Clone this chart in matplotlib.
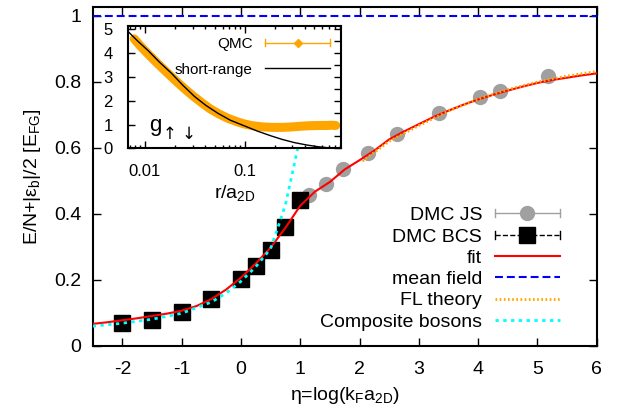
import numpy as np
import matplotlib
matplotlib.use("Agg")
import matplotlib.pyplot as plt
from matplotlib.lines import Line2D
from matplotlib.legend_handler import HandlerBase
from matplotlib.ticker import FormatStrFormatter, NullFormatter, MultipleLocator, LogLocator

plt.rcParams['font.family'] = ['Liberation Sans', 'DejaVu Sans']
plt.rcParams['mathtext.fontset'] = 'custom'
plt.rcParams['mathtext.rm'] = 'Liberation Sans'
plt.rcParams['mathtext.it'] = 'Liberation Sans'
plt.rcParams['axes.unicode_minus'] = False

# DMC with BCS nodes
bcs_eta = [-2.0, -1.5, -1.0, -0.5, 0.0, 0.25, 0.5, 0.75, 1.0]
bcs_e = [0.069, 0.079, 0.104, 0.142, 0.202, 0.243, 0.291, 0.360, 0.442]

# DMC Jastrow-Slater
js_eta = [1.15, 1.43, 1.72, 2.15, 2.64, 3.34, 4.03, 4.37, 5.18]
js_e = [0.458, 0.491, 0.536, 0.584, 0.643, 0.707, 0.754, 0.774, 0.819]

# fit
fit_eta = [-2.5, -2.25, -2.0, -1.75, -1.5, -1.25, -1.0, -0.75, -0.5, -0.25, 0.0,
           0.25, 0.5, 0.75, 1.0, 1.25, 1.5, 1.75, 2.0, 2.25, 2.5, 2.75, 3.0,
           3.25, 3.5, 3.75, 4.0, 4.25, 4.5, 4.75, 5.0, 5.25, 5.5, 5.75, 6.0]
fit_e = [0.067, 0.072, 0.078, 0.084, 0.091, 0.098, 0.107, 0.121, 0.142, 0.171, 0.207,
         0.250, 0.298, 0.358, 0.425, 0.468, 0.497, 0.535, 0.563, 0.592, 0.626, 0.650, 0.672,
         0.694, 0.713, 0.731, 0.747, 0.761, 0.774, 0.786, 0.797, 0.806, 0.813, 0.820, 0.826]

# mean field
mf_eta = [-2.5, 6.0]
mf_e = [1.0, 1.0]

# Fermi liquid theory
fl_eta = [2.05, 2.5, 3.0, 3.5, 4.0, 4.5, 5.0, 5.5, 6.0]
fl_e = [0.560, 0.620, 0.668, 0.712, 0.748, 0.777, 0.800, 0.818, 0.832]

# composite bosons
cb_eta = [-2.5, -2.0, -1.5, -1.0, -0.5, -0.25, 0.0, 0.25, 0.5, 0.625, 0.75, 0.875, 1.0, 1.1]
cb_e = [0.060, 0.069, 0.081, 0.099, 0.133, 0.160, 0.196, 0.240, 0.295, 0.360, 0.428, 0.530, 0.635, 0.720]

# inset: pair correlation
qmc_r = [0.0078, 0.009, 0.011, 0.0135, 0.0165, 0.02, 0.025, 0.03, 0.037, 0.045, 0.055,
         0.068, 0.085, 0.1, 0.12, 0.15, 0.19, 0.24, 0.3, 0.37, 0.45, 0.55, 0.65, 0.75, 0.82]
qmc_g = [4.60, 4.30, 3.92, 3.55, 3.20, 2.87, 2.50, 2.22, 1.92, 1.66, 1.45,
         1.26, 1.11, 1.02, 0.95, 0.90, 0.88, 0.88, 0.90, 0.93, 0.95, 0.96, 0.96, 0.97, 0.96]

sr_r = [0.0068, 0.0085, 0.0108, 0.014, 0.0185, 0.024, 0.0316, 0.041, 0.0541, 0.072,
        0.1, 0.135, 0.185, 0.24, 0.316, 0.42, 0.541, 0.7, 0.857]
sr_g = [4.90, 4.50, 4.10, 3.62, 3.15, 2.65, 2.17, 1.80, 1.47, 1.18,
        0.94, 0.72, 0.52, 0.37, 0.24, 0.14, 0.07, 0.02, 0.0]

gray = '#a0a0a0'


class CapLine(HandlerBase):
    # gnuplot style errorbar key: line with end caps and a point in the middle
    def create_artists(self, legend, orig, xd, yd, w, h, fs, trans):
        y = h / 2 - yd
        x0 = -xd
        x1 = -xd + w
        c = orig.get_color()
        lw = orig.get_linewidth()
        line = Line2D([x0, x1], [y, y], color=c, lw=lw, ls=orig.get_linestyle())
        caps = Line2D([x0, x0, np.nan, x1, x1],
                      [y - 0.3 * h, y + 0.3 * h, np.nan, y - 0.3 * h, y + 0.3 * h],
                      color=c, lw=lw)
        mk = Line2D([(x0 + x1) / 2], [y], ls='none', marker=orig.get_marker(),
                    ms=orig.get_markersize(), mfc=orig.get_markerfacecolor(),
                    mec=orig.get_markeredgecolor())
        for a in (line, caps, mk):
            a.set_transform(trans)
        return [line, caps, mk]


fig = plt.figure(figsize=(6.23, 4.12), dpi=100)
ax = fig.add_axes([0.1488, 0.1602, 0.809, 0.8235])

ax.plot(js_eta, js_e, ls='none', marker='o', ms=10, color=gray, zorder=2)
ax.plot(bcs_eta, bcs_e, ls='none', marker='s', ms=11, color='black', zorder=3)
ax.plot(fit_eta, fit_e, color='red', lw=1.5, zorder=4)
ax.plot(mf_eta, mf_e, color='blue', lw=1.5, dashes=(3.8, 1.9), zorder=4)
ax.plot(fl_eta, fl_e, color='orange', lw=2, dashes=(0.6, 0.9), zorder=4)
ax.plot(cb_eta, cb_e, color='cyan', lw=2, dashes=(1.2, 1.6), zorder=5)

ax.set_xlim(-2.5, 6)
ax.set_ylim(0, 1.028)
ax.set_xticks(np.arange(-2, 7))
ax.set_yticks([0, 0.2, 0.4, 0.6, 0.8, 1.0])
ax.xaxis.set_major_formatter(FormatStrFormatter('%g'))
ax.yaxis.set_major_formatter(FormatStrFormatter('%g'))
ax.tick_params(direction='in', top=True, right=True, length=6, width=1, labelsize=14, pad=8)
ax.tick_params(axis='x', pad=11)
for s in ax.spines.values():
    s.set_linewidth(1.5)
ax.set_xlabel(r'η=log(k$_\mathrm{F}$a$_\mathrm{2D}$)', fontsize=14, labelpad=5)
ax.set_ylabel(r'E/N+|ε$_\mathrm{b}$|/2 [E$_\mathrm{FG}$]', fontsize=14, labelpad=8)

js_h = Line2D([], [], color=gray, lw=1, marker='o', ms=10, mfc=gray, mec=gray)
bcs_h = Line2D([], [], color='black', lw=1, ls='--', marker='s', ms=11, mfc='black', mec='black')
fit_h = Line2D([], [], color='red', lw=1.5)
mf_h = Line2D([], [], color='blue', lw=1.5, dashes=(3.8, 1.9))
fl_h = Line2D([], [], color='orange', lw=2, dashes=(0.6, 0.9))
cb_h = Line2D([], [], color='cyan', lw=2, dashes=(1.2, 1.6))
ax.legend([js_h, bcs_h, fit_h, mf_h, fl_h, cb_h],
          ['DMC JS', 'DMC BCS', 'fit', 'mean field', 'FL theory', 'Composite bosons'],
          loc='lower right', bbox_to_anchor=(0.927, 0.045), fontsize=14, frameon=False,
          markerfirst=False, handlelength=3.35, handletextpad=0.65, borderpad=0,
          borderaxespad=0, labelspacing=0.19,
          handler_map={js_h: CapLine(), bcs_h: CapLine()})

# inset
axin = fig.add_axes([0.2059, 0.640, 0.3409, 0.2968])
axin.set_xscale('log')
axin.plot(qmc_r, qmc_g, color='orange', lw=6.5, solid_capstyle='round', zorder=2)
axin.plot(sr_r, sr_g, color='black', lw=1, zorder=3)
axin.set_xlim(0.0068, 0.92)
axin.set_ylim(0, 5.14)
axin.set_xticks([0.01, 0.1])
axin.xaxis.set_major_formatter(FormatStrFormatter('%g'))
axin.xaxis.set_minor_locator(LogLocator(base=10, subs=np.arange(2, 10)))
axin.xaxis.set_minor_formatter(NullFormatter())
axin.set_yticks([0, 1, 2, 3, 4, 5])
axin.yaxis.set_minor_locator(MultipleLocator(0.5))
axin.tick_params(direction='in', top=True, right=True, length=5, width=1, labelsize=12)
axin.tick_params(axis='x', which='minor', direction='in', top=True, length=2.5, width=1)
axin.tick_params(axis='y', which='minor', direction='in', left=False, right=True, length=5, width=1)
axin.tick_params(axis='y', pad=11)
axin.tick_params(axis='x', pad=11)
for s in axin.spines.values():
    s.set_linewidth(1.5)
axin.set_xlabel(r'r/a$_\mathrm{2D}$', fontsize=14, labelpad=3)
axin.text(0.10, 0.145, 'g', transform=axin.transAxes, fontsize=16)
axin.text(0.163, 0.075, '↑ ↓', transform=axin.transAxes, fontsize=12,
          family=['DejaVu Sans'])

qmc_h = Line2D([], [], color='orange', lw=1, marker='D', ms=4, mfc='orange', mec='orange')
sr_h = Line2D([], [], color='black', lw=1)
axin.legend([qmc_h, sr_h], ['QMC', 'short-range'], loc='upper right',
            bbox_to_anchor=(0.95, 0.91), fontsize=11, frameon=False, markerfirst=False,
            handlelength=4.25, handletextpad=0.8, borderpad=0, borderaxespad=0,
            labelspacing=0.75, handler_map={qmc_h: CapLine()})

fig.savefig('out.png', dpi=100)
